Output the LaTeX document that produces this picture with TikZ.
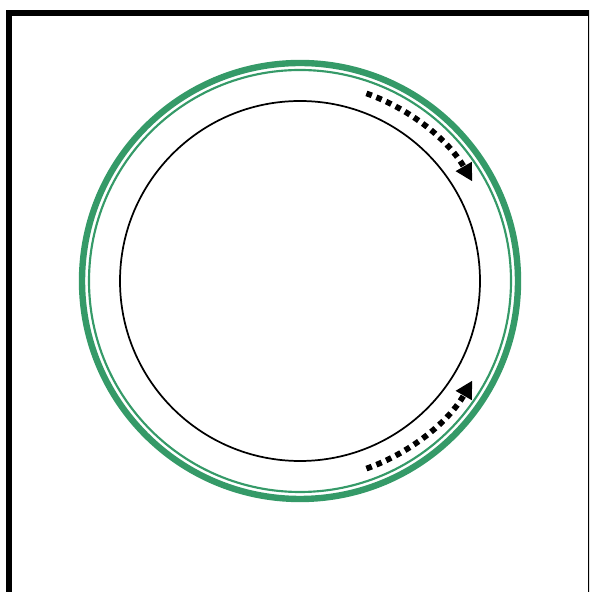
\documentclass[tikz,border=0pt]{standalone}
\usetikzlibrary{arrows.meta}
\definecolor{ringgreen}{RGB}{53,154,104}
\begin{document}
\begin{tikzpicture}[x=0.75pt,y=0.75pt,
  frameline/.style={line width=4.5pt,draw=black},
  outerring/.style={line width=4.8pt,draw=ringgreen},
  innerring/.style={line width=1.6pt,draw=ringgreen},
  corecircle/.style={line width=1.3pt,draw=black},
  flowarrow/.style={line width=4.3pt,dash pattern=on 4.3pt off 3.7pt,
    -{Triangle[length=13pt,width=13pt]}}]
\useasboundingbox (0,0) rectangle (589,592);
\begin{scope}
\clip (0,0) rectangle (589,592);
\draw[frameline] (9,579) rectangle (591,-20);
\end{scope}
\coordinate (c) at (300,311);
\draw[outerring] (c) circle (218);
\draw[innerring] (c) circle (211);
\draw[corecircle] (c) circle (180);
\draw[flowarrow] ([shift={(70.5:199)}]c) arc[start angle=70.5,end angle=30,radius=199];
\draw[flowarrow] ([shift={(-70.5:199)}]c) arc[start angle=-70.5,end angle=-30,radius=199];
\end{tikzpicture}
\end{document}
